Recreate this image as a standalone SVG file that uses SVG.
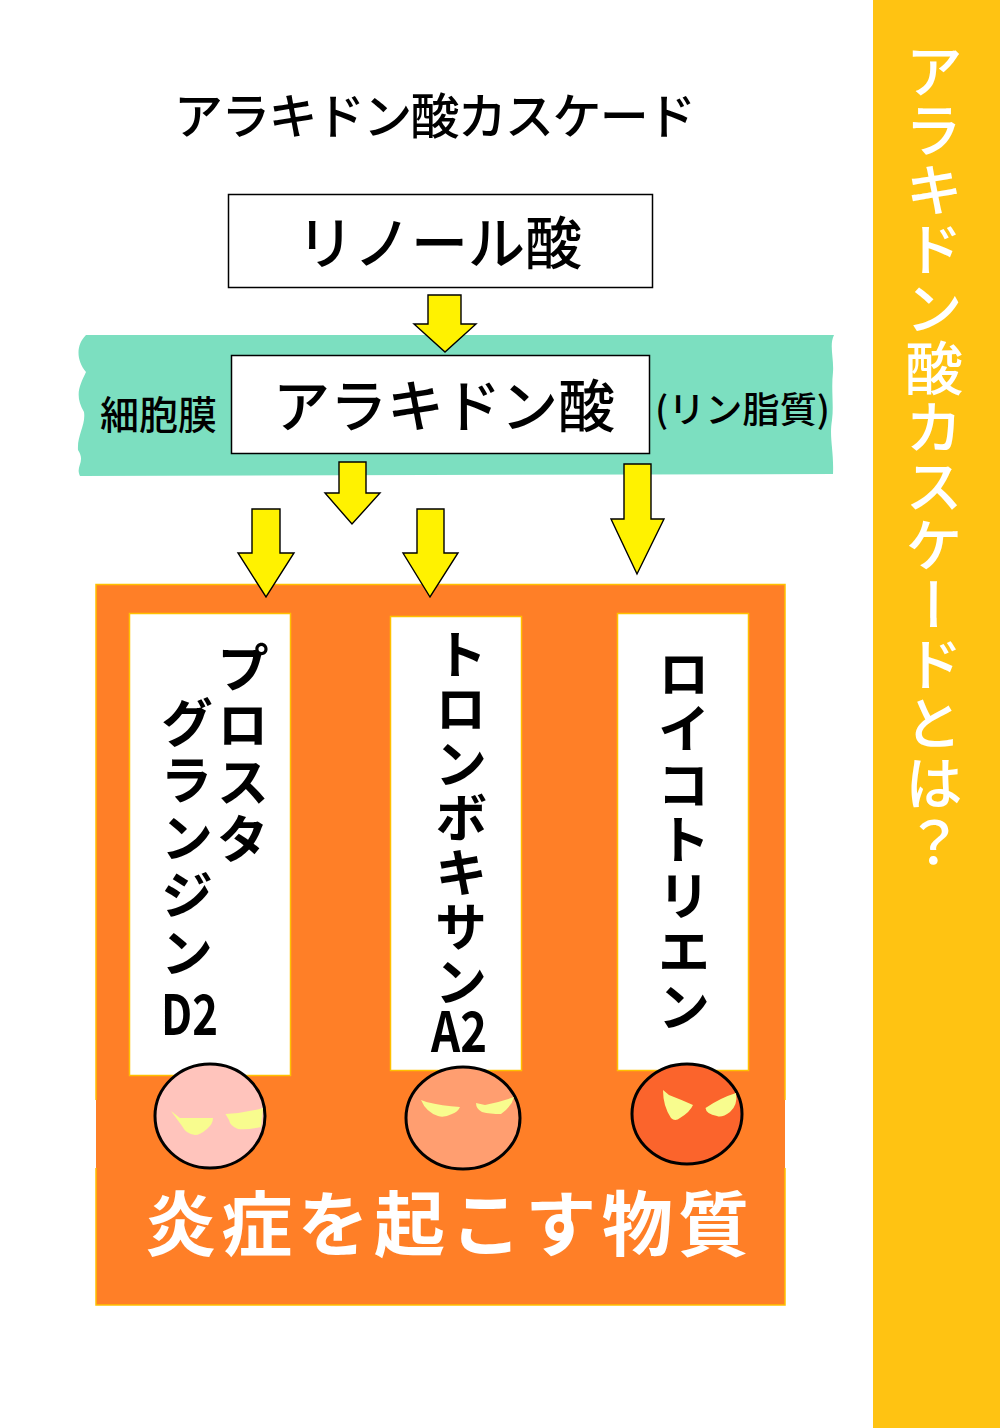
<svg xmlns="http://www.w3.org/2000/svg" width="1000" height="1428" viewBox="0 0 1000 1428">
<defs>
<style>
text{font-family:"Noto Sans CJK JP","Noto Sans",sans-serif;fill:#000;font-weight:500}
.box{fill:#fff;stroke:#000;stroke-width:1.5}
.arrow{fill:#fff200;stroke:#000;stroke-width:1.4;stroke-linejoin:miter}
.col{fill:#fff;stroke:#ffc000;stroke-width:1.5}
.v{writing-mode:vertical-rl;font-weight:700;font-size:53px}
.face{stroke:#000;stroke-width:3}
.eye{fill:#f8fc8e}
</style>
</defs>
<rect width="1000" height="1428" fill="#fff"/>
<g id="sidebar">
<rect x="873" y="0" width="127" height="1428" fill="#ffc312"/>
<text x="934" y="42" class="v" style="font-weight:500;font-size:58px;letter-spacing:1.300px;fill:#fff">アラキドン酸カスケードとは？</text>
</g>
<g id="title"><text x="174" y="134" font-size="49" textLength="522">アラキドン酸カスケード</text></g>
<g id="membrane">
<path d="M86 335H834C829 345 834 358 833 372C831 390 834 405 832 420C829 438 834 450 833 474L80 476C75 466 86 462 78 450C77 435 86 425 84 412C74 395 80 385 86 372C76 360 76 345 86 335Z" fill="#7cdfc0"/>
<text x="100" y="429" font-size="39" textLength="117">細胞膜</text>
<text x="655" y="423" font-size="36" textLength="175" lengthAdjust="spacingAndGlyphs">(リン脂質)</text>
</g>
<g id="linoleic">
<rect class="box" x="228.500" y="194.500" width="424" height="93"/>
<text x="297" y="264" font-size="57">リノール酸</text>
</g>
<g id="arachidonic">
<rect class="box" x="231.500" y="355.500" width="418" height="98"/>
<text x="273" y="427" font-size="57">アラキドン酸</text>
</g>
<g id="inflammatory">
<rect x="96" y="584" width="689" height="721" fill="#ff7f27"/>
<path d="M96 1100V584.500H785V1100M785 1168V1305H96V1168" fill="none" stroke="#ffc000" stroke-width="1.500"/>
<text x="145" y="1250" font-size="71" font-weight="700" textLength="604" style="font-weight:700;fill:#fff">炎症を起こす物質</text>
</g>
<g id="connectors">
<path class="arrow" d="M428 295H461V324H476L445 352L414 324H428Z"/>
<path class="arrow" d="M339 462H366V493H380L352 524L325 493H339Z"/>
<path class="arrow" d="M252 509H280V553H294L266 597L238 553H252Z"/>
<path class="arrow" d="M417 509H444V553H458L430 597L403 553H417Z"/>
<path class="arrow" d="M624 464H651V519H664L637 574L611 519H624Z"/>
</g>
<g id="prostaglandin">
<rect class="col" x="129.500" y="613.500" width="161" height="462"/>
<text x="243" y="641" class="v" style="letter-spacing:4px">プロスタ</text>
<text x="187" y="696" class="v" style="letter-spacing:4.500px">グランジン</text>
<text x="161" y="1035" font-size="56" font-weight="700" textLength="57" lengthAdjust="spacingAndGlyphs" style="font-weight:700">D2</text>
<ellipse class="face" cx="210" cy="1116" rx="55" ry="52" fill="#ffc4bc"/>
<path class="eye" d="M171 1111L180 1118Q196 1118 213 1118Q213 1124 207 1129Q200 1135 195 1135Q186 1134 182 1126Z"/>
<path class="eye" d="M225.500 1114Q245 1113 263 1108L261 1127Q248 1130 238 1129Q230 1126 229 1120Z"/>
</g>
<g id="thromboxane">
<rect class="col" x="390.500" y="616.500" width="131" height="454"/>
<text x="461" y="628" class="v" style="letter-spacing:1.500px">トロンボキサン</text>
<text x="431" y="1052" font-size="56" font-weight="700" textLength="56" lengthAdjust="spacingAndGlyphs" style="font-weight:700">A2</text>
<ellipse class="face" cx="463" cy="1118" rx="57" ry="51" fill="#ff9e70"/>
<path class="eye" d="M421 1100L426.500 1102Q442 1106 460 1107Q458 1112 452 1114Q444 1118 438 1116Q426 1112 421 1100Z"/>
<path class="eye" d="M476 1103L485 1105Q500 1102 514 1097Q512 1106 501 1114Q490 1114 482 1112Q476 1109 476 1103Z"/>
</g>
<g id="leukotriene">
<rect class="col" x="617.500" y="613.500" width="131" height="457"/>
<text x="684" y="647" class="v" style="letter-spacing:2.500px">ロイコトリエン</text>
<ellipse class="face" cx="687" cy="1114" rx="55" ry="50" fill="#fb642c"/>
<path class="eye" d="M663 1090L669 1095Q682 1100 693 1105Q690 1112 680 1118Q675 1122 671 1118Q663 1106 663 1090Z"/>
<path class="eye" d="M705.500 1108Q720 1098 736 1093Q738 1105 730 1112Q722 1118 717 1116Q706 1114 705.500 1108Z"/>
</g>
</svg>
